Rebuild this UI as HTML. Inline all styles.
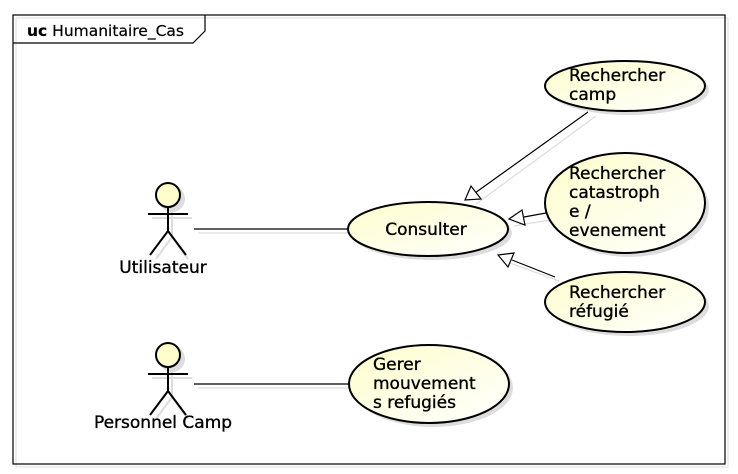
<!DOCTYPE html>
<html><head><meta charset="utf-8"><style>
html,body{margin:0;padding:0;background:#fff}
svg{display:block}
text{font-family:"DejaVu Sans","Liberation Sans",sans-serif;font-size:17px;fill:#000;stroke:#000;stroke-width:0.35}
</style></head><body>
<svg width="738" height="474" viewBox="0 0 738 474" xmlns="http://www.w3.org/2000/svg">
<defs>
<linearGradient id="g" x1="0" y1="0" x2="1" y2="1">
<stop offset="0" stop-color="#fefecc"/><stop offset="1" stop-color="#ffffff"/>
</linearGradient>
</defs>
<rect x="16" y="18" width="712" height="449" fill="none" stroke="#ddd"/>
<rect x="13" y="15" width="712" height="449" fill="none" stroke="#000" stroke-width="1.2"/>
<polyline points="13,43 193,43 205,31 205,15" fill="none" stroke="#000" stroke-width="1.2"/>
<text x="27" y="36" style="font-size:15.5px;stroke-width:0.2"><tspan font-weight="bold">uc</tspan> Humanitaire_Cas</text>

<g fill="#ddd">
<ellipse cx="432" cy="233" rx="80" ry="27"/>
<ellipse cx="629" cy="90" rx="80" ry="25"/>
<ellipse cx="629" cy="207" rx="80" ry="50"/>
<ellipse cx="629" cy="306" rx="80" ry="30"/>
<ellipse cx="433" cy="388" rx="80" ry="39"/>
</g>
<g stroke="#ddd" stroke-width="2" fill="#ddd">
<circle cx="172" cy="199" r="12"/>
<line x1="172" y1="211" x2="172" y2="237"/><line x1="152" y1="218" x2="192" y2="218"/>
<line x1="172" y1="237" x2="156" y2="259"/><line x1="172" y1="237" x2="188" y2="259"/>
<circle cx="172" cy="359" r="12"/>
<line x1="172" y1="371" x2="172" y2="397"/><line x1="152" y1="378" x2="192" y2="378"/>
<line x1="172" y1="397" x2="156" y2="419"/><line x1="172" y1="397" x2="188" y2="419"/>
</g>
<g stroke="#ddd" stroke-width="1.2" fill="none">
<line x1="198" y1="233" x2="352" y2="233"/>
<line x1="198" y1="388" x2="352" y2="388"/>
<line x1="596" y1="116" x2="476" y2="204"/>
<line x1="550" y1="220" x2="514" y2="226"/>
<line x1="559" y1="281" x2="502" y2="260"/>
</g>

<g stroke="#000" stroke-width="2" fill="none">
<circle cx="168" cy="195" r="12" fill="#fefecc"/>
<line x1="168" y1="207" x2="168" y2="231"/><line x1="148" y1="214" x2="188" y2="214"/>
<line x1="168" y1="231" x2="150" y2="255"/><line x1="168" y1="231" x2="186" y2="255"/>
<circle cx="168" cy="355" r="12" fill="#fefecc"/>
<line x1="168" y1="367" x2="168" y2="391"/><line x1="148" y1="374" x2="188" y2="374"/>
<line x1="168" y1="391" x2="150" y2="415"/><line x1="168" y1="391" x2="186" y2="415"/>
</g>
<text x="163" y="273" text-anchor="middle">Utilisateur</text>
<text x="163" y="428" text-anchor="middle">Personnel Camp</text>

<g stroke="#000" stroke-width="1.2" fill="none">
<line x1="194" y1="229" x2="348" y2="229"/>
<line x1="194" y1="384" x2="348" y2="384"/>
<line x1="588" y1="112" x2="475" y2="193"/>
<line x1="546" y1="213" x2="524" y2="217"/>
<line x1="555" y1="277" x2="512" y2="260"/>
</g>
<g stroke="#000" stroke-width="1.2" fill="#fff">
<polygon points="465,200 471,186 481,199"/>
<polygon points="509,219 522,210 525,225"/>
<polygon points="498,255 514,253 508,267"/>
</g>

<g stroke="#000" stroke-width="2" fill="url(#g)">
<ellipse cx="428" cy="229" rx="80" ry="27"/>
<ellipse cx="625" cy="86" rx="80" ry="25"/>
<ellipse cx="625" cy="203" rx="80" ry="50"/>
<ellipse cx="625" cy="302" rx="80" ry="30"/>
<ellipse cx="429" cy="384" rx="80" ry="39"/>
</g>
<text x="426" y="235" text-anchor="middle">Consulter</text>
<text x="569" y="81">Rechercher</text>
<text x="569" y="100">camp</text>
<text x="569" y="179">Rechercher</text>
<text x="569" y="198">catastroph</text>
<text x="569" y="217">e /</text>
<text x="569" y="236">evenement</text>
<text x="569" y="298">Rechercher</text>
<text x="569" y="317">réfugié</text>
<text x="373" y="370">Gerer</text>
<text x="373" y="389">mouvement</text>
<text x="373" y="408">s refugiés</text>
</svg>
</body></html>
